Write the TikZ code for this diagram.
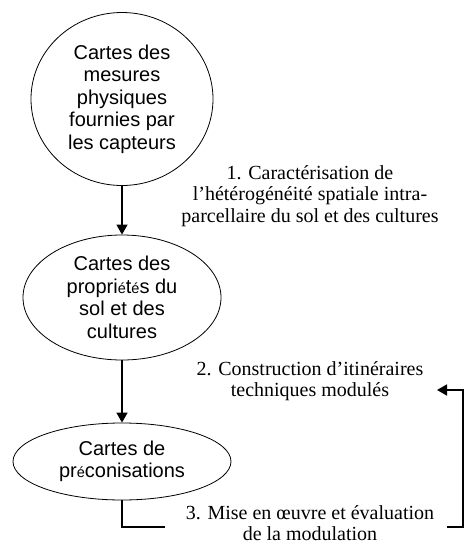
\documentclass[tikz,border=0pt]{standalone}
\usepackage{fontspec}
\setmainfont{Liberation Serif}
\setsansfont{Liberation Sans}
\usepackage{tikz}
\usetikzlibrary{shapes,arrows,arrows.meta}
\usetikzlibrary{positioning}
\tikzstyle{carte} = [ellipse, draw, line width=0.8pt, align=center, inner sep=0pt,
    font=\sffamily\fontsize{20}{22.5}\selectfont]
\tikzstyle{etape} = [align=center, font=\fontsize{20}{21.5}\selectfont]
\tikzstyle{line} = [draw, line width=1.6pt, -{Triangle[length=10pt,width=11pt]}]
\tikzstyle{edge} = [draw, line width=1.6pt]
\newcommand{\petite}{{\fontsize{14.5}{14.5}\selectfont é}}

\begin{document}
\begin{tikzpicture}[node distance = 2cm]
  \useasboundingbox (0,0) rectangle (469pt,-546pt);
  % Place nodes
  \node [carte, minimum width=182pt, minimum height=173pt] (mesures) at (122pt,-99pt)
    {Cartes des\\ mesures\\ physiques\\ fournies par\\ les capteurs};
  \node [carte, below of=mesures, node distance=198.5pt,
         minimum width=198pt, minimum height=125pt] (proprietes)
    {Cartes des\\ propri\petite t\petite s du\\ sol et des\\ cultures};
  \node [carte, below of=proprietes, node distance=164pt,
         minimum width=218pt, minimum height=77pt] (preco)
    {Cartes de\\ pr\petite conisations};

  % Steps
  \node [etape] (etape1) at (310pt,-196pt) {1. Caractérisation de\\
    l’hétérogénéité spatiale intra-\\
    parcellaire du sol et des cultures};
  \node [etape] (etape2) at (310pt,-381pt) {2. Construction d’itinéraires\\
    techniques modulés};
  \node [etape] (etape3) at (310pt,-523pt) {3. Mise en œuvre et évaluation\\
    de la modulation};

  % Connectors
  \path [line] (mesures) -- (proprietes);
  \path [line] (proprietes) -- (preco);

  \coordinate (retour1) at (165pt,-527pt);
  \coordinate (retour2) at (447pt,-527pt);
  \coordinate (retour3) at (437pt,-390pt);
  \path [edge] (preco.south) |- (retour1);
  \path [line] (retour2) -- ++(16pt,0) |- (retour3);
\end{tikzpicture}
\end{document}
